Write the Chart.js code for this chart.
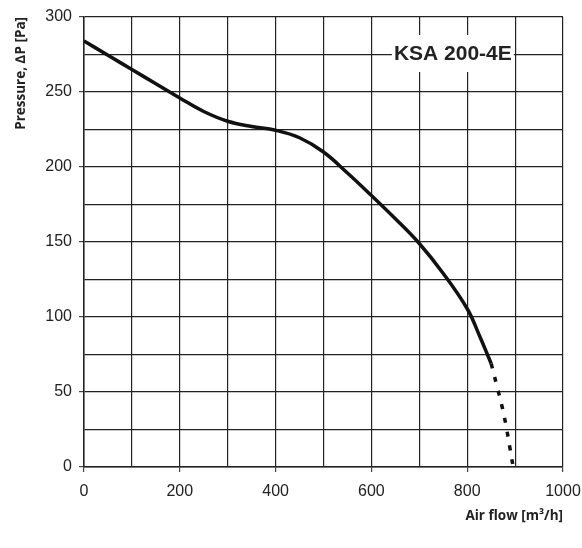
<!DOCTYPE html>
<html>
<head>
<meta charset="utf-8">
<script src="https://cdn.jsdelivr.net/npm/chart.js@4.4.1/dist/chart.umd.min.js"></script>
<style>
  html, body { margin: 0; padding: 0; background: #fff; }
  #wrap { width: 582px; height: 548px; }
</style>
</head>
<body>
<div id="wrap"><canvas id="myChart" width="582" height="548"></canvas></div>
<script>
// fan curve, solid part
var flowSolid     = [0, 50, 100, 150, 200, 250, 300, 350, 400, 450, 500, 550, 600, 650, 700, 750, 800, 825, 850];
var pressureSolid = [284, 274.5, 265, 255.5, 246, 237, 230.5, 227, 224.5, 219.5, 210, 196, 181, 165.5, 149, 129, 105.5, 88, 69];
// dashed tail down to zero pressure
var flowDashed     = [850, 862, 873, 882, 889, 896];
var pressureDashed = [69, 54, 40, 26, 13, 0];

var xTickLabels = [0, 200, 400, 600, 800, 1000];
var yTickLabels = [0, 50, 100, 150, 200, 250, 300];
var modelName = 'KSA 200-4E';

function toPoints(xs, ys) {
    var pts = [];
    xs.forEach(function(x, i) {
        pts.push({x: x, y: ys[i]});
    });
    return pts;
}

var labelBox = {
    id: 'labelBox',
    afterDraw: function(chart) {
        var ctx = chart.ctx;
        var cx = chart.scales.x.getPixelForValue(770);
        var cy = chart.scales.y.getPixelForValue(276);
        ctx.save();
        ctx.font = 'bold 21px "Liberation Sans", Arial, sans-serif';
        var w = ctx.measureText(modelName).width;
        ctx.fillStyle = '#fff';
        ctx.fillRect(cx - w / 2 - 2, cy - 18, w + 4, 37);
        ctx.fillStyle = '#222';
        ctx.textAlign = 'center';
        ctx.textBaseline = 'middle';
        ctx.fillText(modelName, cx, cy + 1);
        ctx.restore();
    }
};

var ctx = document.getElementById('myChart').getContext('2d');
var myChart = new Chart(ctx, {
    type: 'scatter',
    data: {
        datasets: [{
            data: toPoints(flowSolid, pressureSolid),
            showLine: true,
            borderColor: '#111',
            borderWidth: 3.5,
            pointRadius: 0,
            tension: 0.4
        }, {
            data: toPoints(flowDashed, pressureDashed),
            showLine: true,
            borderColor: '#111',
            borderWidth: 3.5,
            borderDash: [5, 9],
            pointRadius: 0,
            tension: 0.4
        }]
    },
    options: {
        responsive: false,
        animation: false,
        layout: { padding: { left: 0, top: 17, right: 19, bottom: 0 } },
        plugins: {
            legend: { display: false },
            tooltip: { enabled: false }
        },
        scales: {
            x: {
                type: 'linear',
                min: 0,
                max: 1000,
                afterFit: function(scale) {
                    scale.height = 81;
                    scale.paddingRight = 0;
                    scale.paddingLeft = 0;
                },
                border: { color: '#222', width: 1.5 },
                grid: {
                    color: '#222',
                    lineWidth: 1.2,
                    tickLength: 5,
                    tickColor: function(c) {
                        return xTickLabels.indexOf(c.tick.value) >= 0 ? '#444' : 'rgba(0,0,0,0)';
                    }
                },
                ticks: {
                    stepSize: 100,
                    padding: 10,
                    maxRotation: 0,
                    color: '#222',
                    font: { family: '"Liberation Sans", Arial, sans-serif', size: 16 },
                    callback: function(v) { return xTickLabels.indexOf(v) >= 0 ? v : ''; }
                },
                title: {
                    display: true,
                    text: 'Air flow [m³/h]',
                    align: 'end',
                    color: '#222',
                    padding: { top: 0, bottom: 24 },
                    font: { family: '"Open Sans", sans-serif', size: 13.5, weight: 'bold' }
                }
            },
            y: {
                min: 0,
                max: 300,
                afterFit: function(scale) { scale.width = 84; },
                border: { color: '#222', width: 1.5 },
                grid: {
                    color: '#222',
                    lineWidth: 1.2,
                    tickLength: 5,
                    tickColor: function(c) {
                        return yTickLabels.indexOf(c.tick.value) >= 0 ? '#444' : 'rgba(0,0,0,0)';
                    }
                },
                ticks: {
                    stepSize: 25,
                    padding: 7,
                    color: '#222',
                    font: { family: '"Liberation Sans", Arial, sans-serif', size: 16 },
                    callback: function(v) { return yTickLabels.indexOf(v) >= 0 ? v : ''; }
                },
                title: {
                    display: true,
                    text: 'Pressure, ∆P [Pa]',
                    align: 'end',
                    color: '#222',
                    padding: { top: 13, bottom: 0 },
                    font: { family: '"Open Sans", sans-serif', size: 13.5, weight: 'bold' }
                }
            }
        }
    },
    plugins: [labelBox]
});
</script>
</body>
</html>
